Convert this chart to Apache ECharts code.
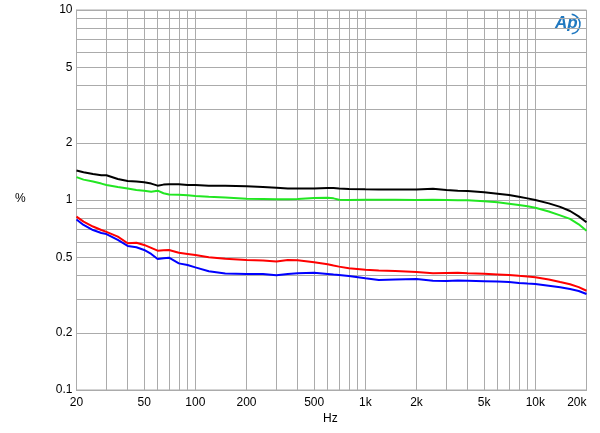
<!DOCTYPE html>
<html>
<head>
<meta charset="utf-8">
<script src="https://cdn.jsdelivr.net/npm/echarts@6/dist/echarts.min.js"></script>
<style>html,body{margin:0;padding:0;background:#fff}#c{width:600px;height:433px}</style>
</head>
<body>
<div id="c"></div>
<script>
var freq = [20,22,25,28,30,35,40,45,50,55,60,65,70,80,90,100,120,150,200,250,300,350,400,500,600,650,700,800,1000,1200,1500,2000,2500,3000,3500,4000,5000,6000,7000,8000,9000,10000,12000,14000,16000,18000,20000];
var blackVals = [1.43,1.40,1.37,1.35,1.35,1.29,1.26,1.25,1.24,1.22,1.19,1.205,1.21,1.21,1.20,1.20,1.19,1.19,1.18,1.17,1.16,1.15,1.15,1.15,1.155,1.155,1.15,1.143,1.138,1.135,1.135,1.135,1.147,1.13,1.12,1.115,1.098,1.08,1.062,1.04,1.02,1.0,0.96,0.92,0.875,0.82,0.763];
var greenVals = [1.32,1.28,1.25,1.22,1.20,1.17,1.15,1.13,1.12,1.105,1.12,1.085,1.07,1.065,1.06,1.05,1.04,1.03,1.016,1.012,1.008,1.01,1.012,1.024,1.029,1.02,1.004,1.0,1.002,1.002,1.002,1.0,1.002,1.0,0.998,0.996,0.984,0.972,0.956,0.941,0.926,0.911,0.87,0.83,0.795,0.745,0.689];
var redVals = [0.817,0.769,0.725,0.695,0.68,0.641,0.592,0.596,0.58,0.56,0.541,0.544,0.546,0.528,0.52,0.513,0.50,0.49,0.483,0.48,0.474,0.483,0.482,0.47,0.459,0.452,0.446,0.437,0.43,0.426,0.423,0.418,0.412,0.413,0.414,0.412,0.409,0.406,0.403,0.399,0.396,0.392,0.382,0.37,0.36,0.348,0.333];
var blueVals = [0.79,0.739,0.695,0.67,0.662,0.616,0.573,0.564,0.546,0.52,0.489,0.494,0.497,0.464,0.455,0.442,0.422,0.41,0.408,0.408,0.402,0.408,0.411,0.414,0.408,0.405,0.403,0.398,0.387,0.379,0.382,0.384,0.376,0.375,0.377,0.376,0.374,0.372,0.37,0.366,0.363,0.361,0.354,0.347,0.34,0.332,0.32];
var xTickLabels = [20,50,100,200,500,1000,2000,5000,10000,20000];
var yTickLabels = [0.1,0.2,0.5,1,2,5,10];
var xGrid = [20,30,40,50,60,70,80,90,100,200,300,400,500,600,700,800,900,1000,2000,3000,4000,5000,6000,7000,8000,9000,10000,20000];
var yGrid = [0.1,0.2,0.3,0.4,0.5,0.6,0.7,0.8,0.9,1,2,3,4,5,6,7,8,9,10];

function pairs(v){ return freq.map(function(f,i){ return [f, v[i]]; }); }
function fmtHz(v){ return v >= 1000 ? (v/1000) + 'k' : String(v); }

var chart = echarts.init(document.getElementById('c'), null, {renderer:'canvas'});
var gridColor = '#ababab';
var font = 'Liberation Sans';
chart.setOption({
  animation: false,
  backgroundColor: '#fff',
  grid: {left: 76.5, right: 13.5, top: 10, bottom: 43, show: true, borderColor: gridColor, borderWidth: 1},
  xAxis: {
    type: 'log', logBase: 10, min: 20, max: 20000,
    axisLine: {show: true, lineStyle: {color: gridColor}},
    axisTick: {show: false, customValues: xGrid},
    splitLine: {show: true, lineStyle: {color: gridColor, width: 1}},
    minorSplitLine: {show: false},
    axisLabel: {customValues: xTickLabels, formatter: fmtHz, color: '#000', fontFamily: font, fontSize: 12, margin: 7, showMinLabel: true, showMaxLabel: true, alignMaxLabel: 'right'}
  },
  yAxis: {
    type: 'log', logBase: 10, min: 0.1, max: 10,
    axisLine: {show: true, lineStyle: {color: gridColor}},
    axisTick: {show: false, customValues: yGrid},
    splitLine: {show: true, lineStyle: {color: gridColor, width: 1}},
    axisLabel: {customValues: yTickLabels, formatter: function(v){ return String(v); }, color: '#000', fontFamily: font, fontSize: 12, margin: 4, showMinLabel: true, showMaxLabel: true}
  },
  series: [
    {type: 'line', data: pairs(blackVals), showSymbol: false, lineStyle: {color: '#000000', width: 2}, z: 5},
    {type: 'line', data: pairs(greenVals), showSymbol: false, lineStyle: {color: '#22e622', width: 2}, z: 5},
    {type: 'line', data: pairs(redVals), showSymbol: false, lineStyle: {color: '#ff0000', width: 2}, z: 6},
    {type: 'line', data: pairs(blueVals), showSymbol: false, lineStyle: {color: '#0000ff', width: 2}, z: 5}
  ],
  graphic: [
    {type: 'text', left: 15, top: 193, style: {text: '%', font: '12px "Liberation Sans"', fill: '#000'}},
    {type: 'text', left: 323, top: 413, style: {text: 'Hz', font: '12px "Liberation Sans"', fill: '#000'}},
    {type: 'text', left: 555, top: 15, style: {text: 'Ap', font: 'italic bold 17px "Liberation Sans"', fill: '#1f78c0'}},
    {type: 'arc', shape: {cx: 570, cy: 24, r: 10, startAngle: -1.4, endAngle: 1.4}, style: {stroke: '#1f78c0', lineWidth: 1.5, fill: null}}
  ]
});
</script>
</body>
</html>
